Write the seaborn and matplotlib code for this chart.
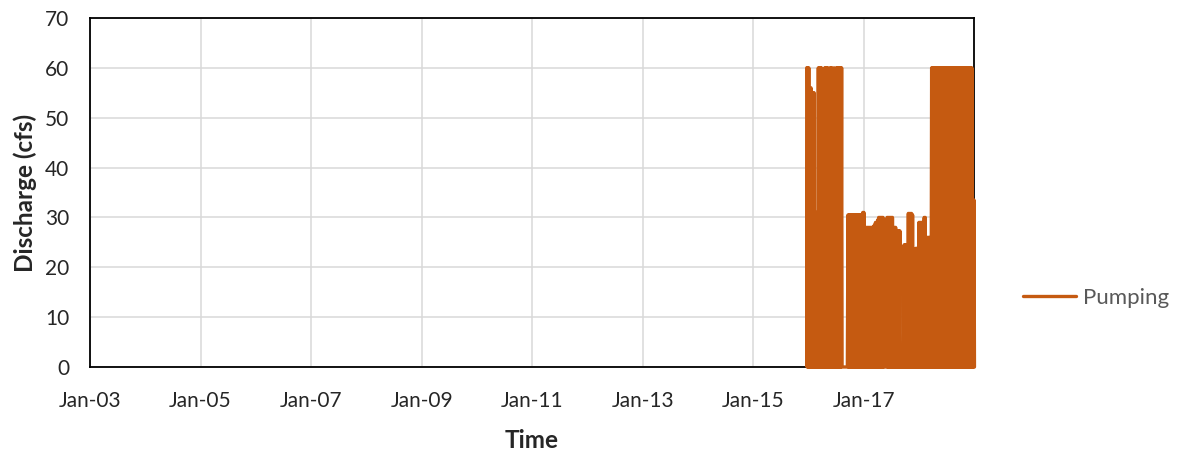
import pandas as pd
import matplotlib.pyplot as plt
import seaborn as sns

sns.set_style('white')
plt.rcParams['font.family'] = ['Lato', 'DejaVu Sans']

# weekly pumping readings (cfs), first reading Mon 2015-12-21
week_start = pd.date_range('2015-12-21', periods=159, freq='7D')

peak_cfs = ([60] * 3 + [56] * 2 + [55] * 3 + [31] * 3 + [60] * 4 + [31] * 2
            + [60, 60, 60, 60, 38, 60, 60, 60, 14, 60, 37, 60, 60, 60, 60, 60, 60]
            + [0] * 5 + [30.5] * 14 + [31] * 2 + [28] * 8 + [28.2, 28.5]
            + [29, 29, 29.5] + [30] * 5 + [29] + [0] * 2 + [30] * 6 + [28] * 3
            + [27.3] * 4 + [2.4] * 3 + [24.5] * 4 + [30.8] * 4 + [30.5]
            + [1.8] * 2 + [23.8] * 3 + [29] * 5 + [30] * 2 + [26] * 5
            + [60] * 39 + [33.5] * 2)

# pump is off between readings -> line drops to zero mid-week
low_cfs = [0] * 159

tick_dates = pd.date_range('2003-01-01', '2017-01-01', freq='2YS')

df = pd.DataFrame({
    'Date': list(week_start) + list(week_start + pd.Timedelta(days=3)),
    'Pumping': peak_cfs + low_cfs,
})

fig = plt.figure(figsize=(11.77, 4.5), dpi=100)
ax = fig.add_axes([90 / 1177, 83 / 450, 884 / 1177, 349 / 450])

sns.lineplot(data=df, x='Date', y='Pumping', color='#C55A11', lw=2.4,
             estimator=None, ax=ax, legend=False, zorder=3, clip_on=False)

ax.set_xlim(pd.Timestamp('2003-01-01'), pd.Timestamp('2018-12-31'))
ax.set_ylim(0, 70)
ax.set_yticks(range(0, 71, 10))
ax.set_xticks(tick_dates)
ax.set_xticklabels([d.strftime('%b-%y') for d in tick_dates])

ax.grid(True, color='#d9d9d9', lw=1.1)
ax.set_axisbelow(True)
for s in ax.spines.values():
    s.set_color('black')
    s.set_linewidth(1.3)

ax.tick_params(axis='both', length=0, labelsize=15, colors='#262626')
ax.tick_params(axis='y', pad=15)
ax.tick_params(axis='x', pad=17)

ax.set_xlabel('Time', fontsize=17.5, fontweight='bold', labelpad=13)
ax.set_ylabel('Discharge (cfs)', fontsize=17.5, fontweight='bold', labelpad=6)

handle = plt.Line2D([], [], color='#C55A11', lw=2.4)
fig.legend([handle], ['Pumping'], loc='center left',
           bbox_to_anchor=(1003 / 1177, 152 / 450), frameon=False,
           fontsize=16, labelcolor='#595959', handlelength=2.4, handletextpad=0.3)

fig.savefig('out.png', dpi=100)
